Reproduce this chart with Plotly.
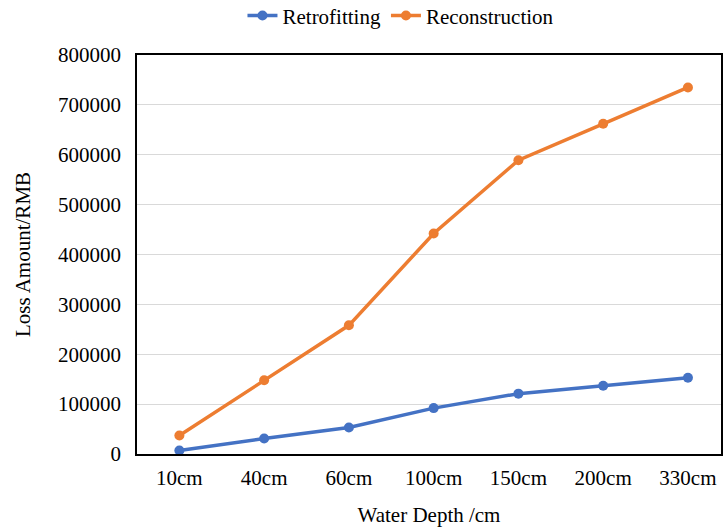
import plotly.graph_objects as go

categories = ["10cm", "40cm", "60cm", "100cm", "150cm", "200cm", "330cm"]
retrofitting = [7000, 31000, 53000, 92000, 121000, 137000, 153000]
reconstruction = [37000, 148000, 258000, 442000, 589000, 662000, 735000]
y_ticks = [0, 100000, 200000, 300000, 400000, 500000, 600000, 700000, 800000]

BLUE = "#4472C4"
ORANGE = "#ED7D31"
FONT = "Liberation Serif"

fig = go.Figure()
fig.add_trace(go.Scatter(x=categories, y=retrofitting, name="Retrofitting",
                         mode="lines+markers",
                         line=dict(color=BLUE, width=3.5),
                         marker=dict(color=BLUE, size=10)))
fig.add_trace(go.Scatter(x=categories, y=reconstruction, name="Reconstruction",
                         mode="lines+markers",
                         line=dict(color=ORANGE, width=3.5),
                         marker=dict(color=ORANGE, size=10)))

fig.update_layout(
    width=723, height=529,
    margin=dict(l=137, r=0, t=55, b=75),
    paper_bgcolor="white", plot_bgcolor="white",
    font=dict(family=FONT, size=20, color="black"),
    legend=dict(orientation="h", x=0.452, xanchor="center", y=0.97, yanchor="middle",
                yref="container", font=dict(family=FONT, size=21, color="black"),
                traceorder="normal"),
    xaxis=dict(type="category", range=[-0.5, 6.39],
               showline=True, linecolor="black", linewidth=1.5, mirror=True,
               showgrid=False, ticks="", ticklabelstandoff=4,
               tickfont=dict(family=FONT, size=21),
               title=dict(text="Water Depth /cm", font=dict(family=FONT, size=21), standoff=18)),
    yaxis=dict(range=[0, 800000], tickvals=y_ticks, tickformat="d",
               showline=True, linecolor="black", linewidth=1.5, mirror=True,
               showgrid=True, gridcolor="#D9D9D9", gridwidth=1, zeroline=False,
               ticks="", ticklabelstandoff=10,
               tickfont=dict(family=FONT, size=21),
               title=dict(text="Loss Amount/RMB", font=dict(family=FONT, size=21), standoff=22)),
)

fig.write_html("out.html")
